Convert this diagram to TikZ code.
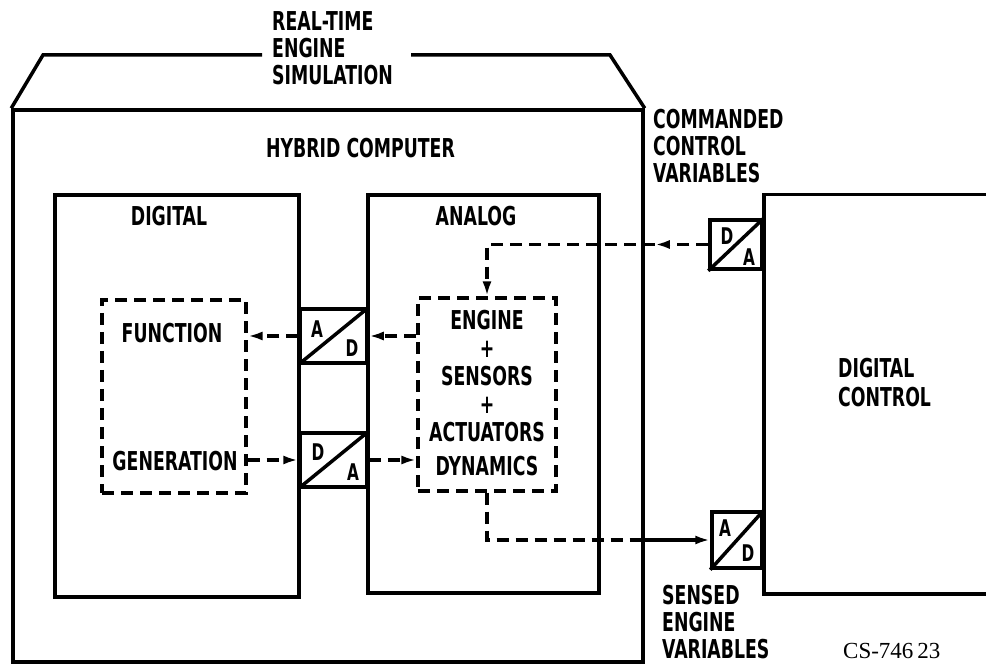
\documentclass[tikz,border=0pt]{standalone}
\usepackage{fontspec}
\setmainfont{DejaVu Sans Condensed}[FakeStretch=0.74]
\newfontfamily\csfont{Liberation Serif}
\usetikzlibrary{arrows.meta}
\begin{document}
\begin{tikzpicture}[x=1pt,y=-1pt,
  lbl/.style={font=\fontsize{26}{27}\selectfont\bfseries, inner sep=0pt},
  small/.style={font=\fontsize{23}{24}\selectfont\bfseries, inner sep=0pt},
  box/.style={draw, line width=3.5pt, inner sep=0pt},
  dbox/.style={draw, line width=3.2pt, dash pattern=on 12pt off 7pt, inner sep=0pt},
  dline/.style={line width=3.2pt, dash pattern=on 12pt off 7pt},
  sline/.style={line width=3.2pt},
  arr/.style={-{Latex[length=15pt,width=9pt]}},
]
\useasboundingbox (0,0) rectangle (986,668);

% hybrid computer with trapezoid top
\node[box, minimum width=630pt, minimum height=552pt] (hybrid) at (328,386) {};
\coordinate (tl) at (43,55);
\coordinate (tlend) at (262,55);
\coordinate (trstart) at (411,55);
\coordinate (tr) at (610,55);
\draw[line width=3.5pt] (hybrid.north west) -- (tl) -- (tlend);
\draw[line width=3.5pt] (trstart) -- (tr) -- (hybrid.north east);
\node[lbl, align=left, anchor=west] (title) at (272,48) {REAL-TIME\\ENGINE\\SIMULATION};
\node[lbl, anchor=west] (hclbl) at (266,148) {HYBRID COMPUTER};

% digital and analog
\node[box, minimum width=244pt, minimum height=402pt] (digital) at (177,396) {};
\node[lbl] (diglbl) at (169,216) {DIGITAL};
\node[box, minimum width=231pt, minimum height=398pt] (analog) at (483.5,394) {};
\node[lbl] (anlbl) at (476,216) {ANALOG};

% function generation
\node[dbox, minimum width=144pt, minimum height=193pt] (func) at (174,396.5) {};
\node[lbl] (funclbl) at (172,333) {FUNCTION};
\node[lbl] (genlbl) at (175,461) {GENERATION};

% engine dynamics
\node[dbox, minimum width=138pt, minimum height=193pt] (engine) at (487,394.5) {};
\node[lbl, font=\fontsize{26}{28}\selectfont\bfseries, align=center] (englbl) at (487,393)
  {ENGINE\\+\\SENSORS\\+\\ACTUATORS\\[6pt]DYNAMICS};

% converters inside hybrid
\node[box, minimum width=67pt, minimum height=54pt] (ad1) at (333.5,336) {};
\draw[line width=3.5pt] (ad1.south west) -- (ad1.north east);
\node[small] (ad1a) at (317,329) {A};
\node[small] (ad1d) at (352,348) {D};
\node[box, minimum width=67pt, minimum height=54pt] (da1) at (333.5,460) {};
\draw[line width=3.5pt] (da1.south west) -- (da1.north east);
\node[small] (da1d) at (318,452) {D};
\node[small] (da1a) at (353,472) {A};

% digital control
\node[box, minimum width=250pt, minimum height=399pt, anchor=north west] (dc) at (762,193) {};
\node[lbl, font=\fontsize{26}{29}\selectfont\bfseries, align=left, anchor=west] (dclbl) at (838,382.5) {DIGITAL\\CONTROL};

% converters at digital control
\node[box, minimum width=52pt, minimum height=49pt] (da2) at (736,244.5) {};
\draw[line width=3.5pt] (da2.south west) -- (da2.north east);
\node[small] (da2d) at (727,236) {D};
\node[small] (da2a) at (749,257) {A};
\node[box, minimum width=50pt, minimum height=56pt] (ad2) at (737,540) {};
\draw[line width=3.5pt] (ad2.south west) -- (ad2.north east);
\node[small] (ad2a) at (725,528) {A};
\node[small] (ad2d) at (748,553) {D};

% outside labels
\node[lbl, align=left, anchor=west] (cmdlbl) at (653,146) {COMMANDED\\CONTROL\\VARIABLES};
\node[lbl, align=left, anchor=west] (senlbl) at (662,622) {SENSED\\ENGINE\\VARIABLES};
\node[font=\csfont\fontsize{23}{25}\selectfont, anchor=north west, inner sep=0pt] (csnum) at (843,643) {CS-746\,23};

% connectors
\draw[dline, arr] (engine.west |- ad1) -- (ad1.east);
\draw[dline, arr] (ad1.west) -- (func.east |- ad1);
\draw[dline, arr] (func.east |- da1) -- (da1.west);
\draw[dline, arr] (da1.east) -- (engine.west |- da1);
\coordinate (cmdtip) at ([xshift=10pt]hybrid.east |- da2);
\draw[dline, arr] (da2.west) -- (cmdtip);
\draw[dline, arr] (cmdtip) -| (engine.north);
\coordinate (senseq) at (hybrid.east |- ad2);
\draw[dline] (engine.south) |- (senseq);
\draw[sline, arr] (senseq) -- (ad2.west);
\end{tikzpicture}
\end{document}
